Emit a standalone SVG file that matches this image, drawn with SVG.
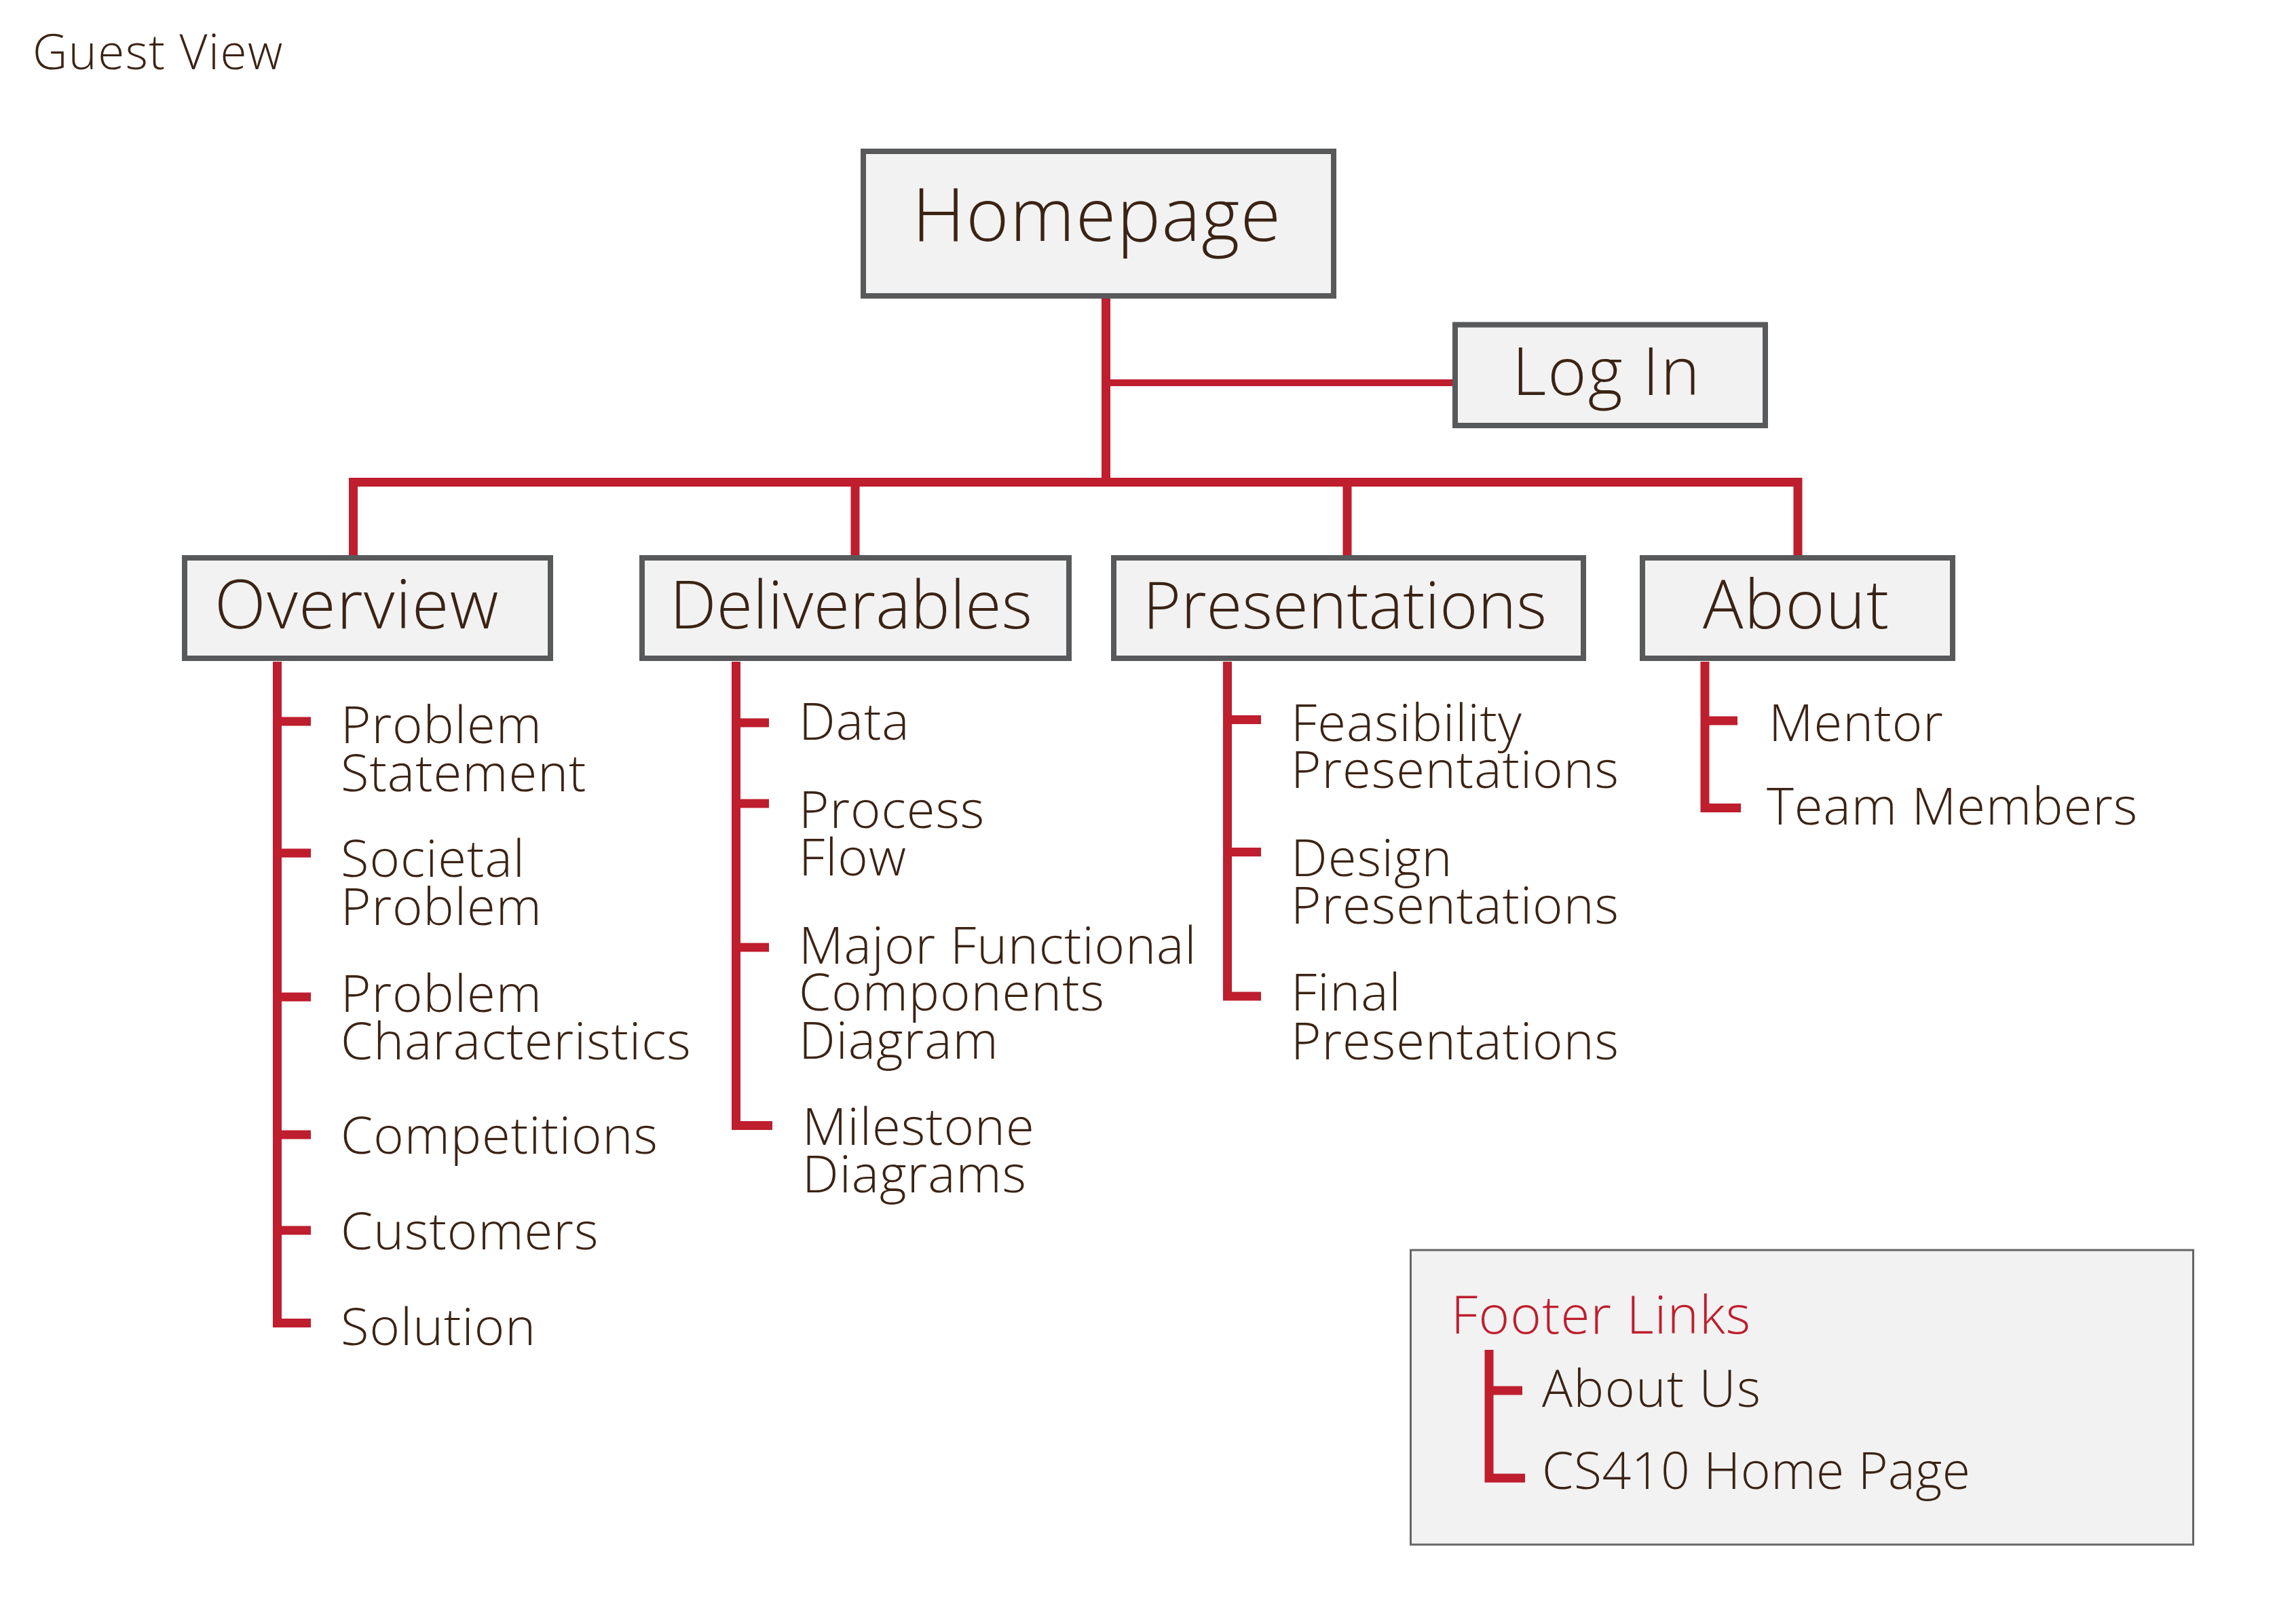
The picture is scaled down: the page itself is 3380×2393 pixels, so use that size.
<svg xmlns="http://www.w3.org/2000/svg" width="3380" height="2393" viewBox="0 0 3380 2393">
<style>
  .box { fill: #f2f2f2; stroke: #58595b; stroke-width: 8; }
  .fbox { fill: #f2f2f2; stroke: #666666; stroke-width: 3; }
  .ln { stroke: #be1e2d; stroke-width: 13; fill: none; stroke-linecap: butt; }
  .ln2 { stroke: #be1e2d; stroke-width: 10; fill: none; }
  .t { font-family: "Open Sans", "Liberation Sans", sans-serif; font-weight: 300; fill: #3b2314; }
  .sub { font-size: 76px; letter-spacing: 1px; }
  .red { fill: #be1e2d; }
</style>
<rect width="3380" height="2393" fill="#ffffff"/>
<text class="t" x="48" y="102" font-size="71" letter-spacing="1.5">Guest View</text>

<g id="connectors">
  <line class="ln" x1="1629.5" y1="440" x2="1629.5" y2="710"/>
  <line class="ln2" x1="1629.5" y1="564" x2="2140" y2="564"/>
  <path class="ln" d="M520.5 818 V710.5 H2649 V818"/>
  <line class="ln" x1="1260" y1="710" x2="1260" y2="818"/>
  <line class="ln" x1="1985" y1="710" x2="1985" y2="818"/>
  <!-- Overview subtree -->
  <g>
    <path class="ln" d="M408.5 975 V1949.5 H458"/>
    <line class="ln" x1="408.5" y1="1063" x2="458" y2="1063"/>
    <line class="ln" x1="408.5" y1="1257" x2="458" y2="1257"/>
    <line class="ln" x1="408.5" y1="1469" x2="458" y2="1469"/>
    <line class="ln" x1="408.5" y1="1672" x2="458" y2="1672"/>
    <line class="ln" x1="408.5" y1="1813" x2="458" y2="1813"/>
  </g>
  <!-- Deliverables subtree -->
  <g>
    <path class="ln" d="M1084.5 975 V1658.5 H1138"/>
    <line class="ln" x1="1084.5" y1="1065" x2="1133" y2="1065"/>
    <line class="ln" x1="1084.5" y1="1184" x2="1133" y2="1184"/>
    <line class="ln" x1="1084.5" y1="1396" x2="1133" y2="1396"/>
  </g>
  <!-- Presentations subtree -->
  <g>
    <path class="ln" d="M1808.5 975 V1468 H1858"/>
    <line class="ln" x1="1808.5" y1="1060.5" x2="1858" y2="1060.5"/>
    <line class="ln" x1="1808.5" y1="1255.5" x2="1858" y2="1255.5"/>
  </g>
  <!-- About subtree -->
  <g>
    <path class="ln" d="M2512 975 V1190.5 H2565"/>
    <line class="ln" x1="2512" y1="1062" x2="2560" y2="1062"/>
  </g>
</g>

<g id="homepage">
  <rect class="box" x="1272" y="223" width="693" height="213"/>
  <text class="t" x="1344" y="355" font-size="108" letter-spacing="1.5">Homepage</text>
</g>
<g id="login">
  <rect class="box" x="2144" y="478.5" width="457" height="148.5"/>
  <text class="t" x="2228" y="582" font-size="98" letter-spacing="2">Log In</text>
</g>
<g id="overview">
  <rect class="box" x="272" y="822" width="539" height="148"/>
  <text class="t" x="316" y="926" font-size="99" letter-spacing="1.5">Overview</text>
</g>
<g id="deliverables">
  <rect class="box" x="946" y="822" width="629" height="148"/>
  <text class="t" x="987" y="926" font-size="97" letter-spacing="0.3">Deliverables</text>
</g>
<g id="presentations">
  <rect class="box" x="1641" y="822" width="692" height="148"/>
  <text class="t" x="1684" y="926" font-size="96" letter-spacing="0">Presentations</text>
</g>
<g id="about">
  <rect class="box" x="2420" y="822" width="457" height="148"/>
  <text class="t" x="2509" y="926" font-size="99" letter-spacing="1.5">About</text>
</g>

<g id="overview-items">
  <text class="t sub" x="502" y="1095">Problem</text>
  <text class="t sub" x="502" y="1166">Statement</text>
  <text class="t sub" x="502" y="1292">Societal</text>
  <text class="t sub" x="502" y="1363">Problem</text>
  <text class="t sub" x="502" y="1491">Problem</text>
  <text class="t sub" x="502" y="1561">Characteristics</text>
  <text class="t sub" x="502" y="1700">Competitions</text>
  <text class="t sub" x="502" y="1841">Customers</text>
  <text class="t sub" x="502" y="1982">Solution</text>
</g>
<g id="deliverables-items">
  <text class="t sub" x="1177" y="1090">Data</text>
  <text class="t sub" x="1177" y="1220">Process</text>
  <text class="t sub" x="1177" y="1290">Flow</text>
  <text class="t sub" x="1177" y="1420">Major Functional</text>
  <text class="t sub" x="1177" y="1489">Components</text>
  <text class="t sub" x="1177" y="1560">Diagram</text>
  <text class="t sub" x="1182" y="1687">Milestone</text>
  <text class="t sub" x="1182" y="1757">Diagrams</text>
</g>
<g id="presentations-items">
  <text class="t sub" x="1902" y="1092">Feasibility</text>
  <text class="t sub" x="1902" y="1161">Presentations</text>
  <text class="t sub" x="1902" y="1291">Design</text>
  <text class="t sub" x="1902" y="1361">Presentations</text>
  <text class="t sub" x="1902" y="1489">Final</text>
  <text class="t sub" x="1902" y="1561">Presentations</text>
</g>
<g id="about-items">
  <text class="t sub" x="2606" y="1092">Mentor</text>
  <text class="t sub" x="2603" y="1215">Team Members</text>
</g>

<g id="footer">
  <rect class="fbox" x="2078.5" y="1842" width="1153" height="434"/>
  <text class="t red" x="2138" y="1965" font-size="78" letter-spacing="1.2">Footer Links</text>
  <path class="ln" d="M2194 1989 V2178 H2247"/>
  <line class="ln" x1="2194" y1="2049" x2="2243" y2="2049"/>
  <text class="t" x="2272" y="2073" font-size="75" letter-spacing="1.5">About Us</text>
  <text class="t" x="2272" y="2194" font-size="75" letter-spacing="0.5">CS410 Home Page</text>
</g>
</svg>
